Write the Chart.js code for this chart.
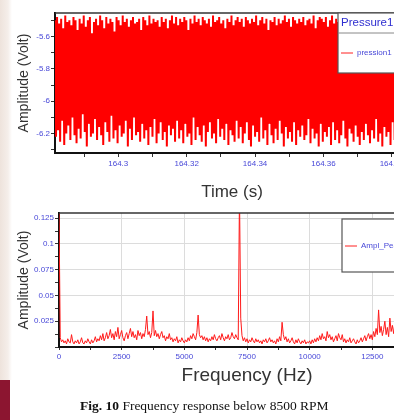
<!DOCTYPE html>
<html>
<head>
<meta charset="utf-8">
<script src="https://cdn.jsdelivr.net/npm/chart.js@4.4.0/dist/chart.umd.min.js"></script>
<style>
html, body { margin: 0; padding: 0; width: 394px; height: 420px; overflow: hidden; background: #fff; }
#strip { position: absolute; left: 0; top: 0; width: 30px; height: 380px;
  background: linear-gradient(to right, #eee3dc 0, #f5eeea 8px, #fff 12px); }
#band { position: absolute; left: 0; top: 380px; width: 10px; height: 40px; background: #8c1530; }
#c1 { position: absolute; left: 0; top: 0; }
#c2 { position: absolute; left: 0; top: 200px; }
#cap { position: absolute; left: 80px; top: 398px; font: 13.5px 'Liberation Serif', serif; color: #111; white-space: nowrap; }
</style>
</head>
<body>
<div id="strip"></div>
<div id="band"></div>
<canvas id="c1" width="420" height="210"></canvas>
<canvas id="c2" width="450" height="200"></canvas>
<div id="cap"><b>Fig. 10</b> Frequency response below 8500 RPM</div>
<script>
// pressure signal, time window
const timeStart = 164.2815;
const timeStep = 0.0003;
const pression1 = [
  -5.50,-6.22,-5.48,-6.18,-5.52,-6.25,-5.49,-6.12,-5.55,-6.27,-5.47,-6.20,-5.51,-6.15,-5.50,-6.24,-5.53,-6.10,-5.48,-6.21,
  -5.50,-6.26,-5.56,-6.17,-5.49,-6.23,-5.52,-6.08,-5.47,-6.19,-5.54,-6.28,-5.50,-6.14,-5.48,-6.22,-5.58,-6.20,-5.51,-6.11,
  -5.49,-6.24,-5.53,-6.16,-5.47,-6.21,-5.50,-6.27,-5.55,-6.13,-5.48,-6.19,-5.52,-6.25,-5.49,-6.09,-5.51,-6.23,-5.57,-6.18,
  -5.48,-6.26,-5.50,-6.15,-5.53,-6.22,-5.47,-6.20,-5.51,-6.12,-5.49,-6.28,-5.54,-6.17,-5.50,-6.24,-5.48,-6.10,-5.52,-6.21,
  -5.51,-6.19,-5.49,-6.25,-5.56,-6.14,-5.48,-6.23,-5.50,-6.18,-5.53,-6.27,-5.47,-6.16,-5.52,-6.22,-5.49,-6.11,-5.51,-6.26,
  -5.50,-6.20,-5.54,-6.13,-5.48,-6.24,-5.51,-6.19,-5.49,-6.28,-5.55,-6.15,-5.50,-6.21,-5.47,-6.17,-5.52,-6.25,-5.48,-6.12,
  -5.53,-6.23,-5.49,-6.18,-5.51,-6.26,-5.48,-6.14,-5.50,-6.22,-5.56,-6.20,-5.49,-6.27,-5.52,-6.10,-5.47,-6.24,-5.51,-6.16,
  -5.49,-6.21,-5.53,-6.25,-5.48,-6.15,-5.50,-6.28,-5.52,-6.19,-5.49,-6.13,-5.54,-6.23,-5.47,-6.20,-5.51,-6.26,-5.50,-6.11,
  -5.48,-6.22,-5.52,-6.17,-5.50,-6.24,-5.55,-6.14,-5.49,-6.27,-5.51,-6.18,-5.47,-6.21,-5.53,-6.25,-5.50,-6.12,-5.48,-6.23,
  -5.51,-6.16,-5.49,-6.26,-5.54,-6.20,-5.48,-6.13,-5.50,-6.24,-5.52,-6.28,-5.49,-6.15,-5.51,-6.22,-5.47,-6.19,-5.53,-6.25,
  -5.50,-6.10,-5.48,-6.23,-5.52,-6.18,-5.49,-6.27,-5.56,-6.14,-5.50,-6.21,-5.51,-6.26,-5.48,-6.17,-5.53,-6.24,-5.49,-6.12,
  -5.52,-6.20,-5.50,-6.28,-5.47,-6.16,-5.51,-6.23,-5.49,-6.19,-5.54,-6.25,-5.48,-6.13,-5.50,-6.27,-5.52,-6.18,-5.49,-6.22,
  -5.51,-6.15,-5.48,-6.24,-5.53,-6.21,-5.50,-6.11,-5.49,-6.26,-5.52,-6.17,-5.47,-6.23,-5.55,-6.20,-5.50,-6.28,-5.48,-6.14,
  -5.49,-6.25,-5.51,-6.19,-5.48,-6.22,-5.54,-6.16,-5.50,-6.27,-5.47,-6.13,-5.52,-6.24,-5.49,-6.18,-5.51,-6.26,-5.53,-6.21,
  -5.48,-6.12,-5.50,-6.23,-5.52,-6.28,-5.49,-6.17,-5.51,-6.20,-5.56,-6.25,-5.48,-6.15,-5.50,-6.22,-5.47,-6.27,-5.52,-6.19,
  -5.50,-6.24,-5.49,-6.14,-5.53,-6.21,-5.48,-6.26,-5.51,-6.18,-5.49,-6.23,-5.54,-6.11,-5.50,-6.25,-5.48,-6.20,-5.52,-6.28,
  -5.49,-6.16,-5.51,-6.22,-5.47,-6.19,-5.50,-6.27,-5.53,-6.13,-5.48,-6.24,-5.52,-6.20,-5.49,-6.15,-5.51,-6.23,-5.50,-6.18
];

// spectrum, one value every 50 Hz
const freqStep = 50;
const amplPeak = [
  0.130,0.009,0.005,0.007,0.004,0.006,0.003,0.008,0.005,0.004,0.012,0.005,0.003,0.006,0.004,0.007,0.003,0.005,0.009,0.004,
  0.003,0.006,0.004,0.008,0.005,0.003,0.007,0.004,0.006,0.010,0.005,0.008,0.006,0.011,0.007,0.013,0.006,0.009,0.014,0.008,
  0.011,0.017,0.009,0.013,0.007,0.015,0.010,0.019,0.008,0.012,0.016,0.009,0.006,0.011,0.014,0.008,0.013,0.018,0.010,0.015,
  0.009,0.012,0.007,0.016,0.011,0.014,0.008,0.013,0.010,0.017,0.030,0.012,0.015,0.009,0.014,0.035,0.011,0.016,0.010,0.013,
  0.008,0.012,0.015,0.009,0.011,0.006,0.010,0.008,0.013,0.007,0.009,0.005,0.008,0.006,0.010,0.004,0.007,0.005,0.009,0.006,
  0.004,0.007,0.005,0.009,0.006,0.011,0.008,0.013,0.010,0.007,0.014,0.031,0.012,0.009,0.011,0.007,0.010,0.006,0.009,0.005,
  0.008,0.006,0.010,0.007,0.012,0.008,0.006,0.009,0.011,0.007,0.013,0.009,0.006,0.010,0.008,0.012,0.007,0.009,0.014,0.010,
  0.008,0.012,0.009,0.007,0.150,0.028,0.011,0.006,0.009,0.005,0.008,0.004,0.007,0.005,0.009,0.006,0.004,0.008,0.005,0.007,
  0.004,0.006,0.003,0.007,0.005,0.008,0.004,0.006,0.009,0.005,0.007,0.004,0.006,0.003,0.008,0.005,0.010,0.006,0.024,0.012,
  0.007,0.010,0.005,0.008,0.004,0.006,0.009,0.005,0.003,0.007,0.004,0.008,0.005,0.003,0.006,0.004,0.007,0.003,0.005,0.004,
  0.006,0.003,0.007,0.004,0.008,0.005,0.009,0.006,0.011,0.007,0.013,0.008,0.010,0.006,0.015,0.009,0.012,0.007,0.010,0.005,
  0.008,0.011,0.006,0.013,0.009,0.007,0.012,0.005,0.008,0.004,0.007,0.005,0.009,0.004,0.006,0.008,0.005,0.003,0.007,0.004,
  0.006,0.009,0.005,0.008,0.011,0.006,0.010,0.013,0.008,0.012,0.007,0.015,0.010,0.018,0.012,0.036,0.014,0.020,0.011,0.017,
  0.025,0.012,0.019,0.010,0.028,0.015,0.021,0.013,0.024,0.016,0.022,0.014,0.026
];

const tickFont = { family: 'Arial, "Liberation Sans", sans-serif', size: 8 };
const tickBlue = '#4848d8';
const titleGrey = '#333';

// every 2nd minor tick gets a label
function majorLabel(v, step, skipZero) {
  const k = Math.round(v / step);
  if (Math.abs(v / step - k) > 1e-6 || k % 2 !== 0) return '';
  if (skipZero && k === 0) return '';
  return String(parseFloat((k * step).toFixed(4)));
}

// top edge of the frame + the boxed legend of the original software
function frameAndLegend(opts) {
  return {
    id: 'frameAndLegend',
    afterDatasetsDraw(chart) {
      const { ctx, chartArea } = chart;
      ctx.save();
      ctx.strokeStyle = '#333';
      ctx.lineWidth = 1.5;
      ctx.beginPath();
      ctx.moveTo(chartArea.left, chartArea.top);
      ctx.lineTo(chartArea.right, chartArea.top);
      ctx.stroke();

      const b = opts.box;
      ctx.fillStyle = '#fff';
      ctx.fillRect(b.x, b.y, b.w, b.h);
      ctx.strokeStyle = '#555';
      ctx.lineWidth = 1.2;
      ctx.strokeRect(b.x, b.y, b.w, b.h);
      if (opts.title) {
        ctx.fillStyle = '#2e2ed0';
        ctx.font = '11.5px Arial, "Liberation Sans", sans-serif';
        ctx.textBaseline = 'middle';
        ctx.fillText(opts.title, b.x + 3, b.y + 10);
        ctx.strokeStyle = '#888';
        ctx.lineWidth = 1;
        ctx.beginPath();
        ctx.moveTo(b.x, b.y + 20);
        ctx.lineTo(b.x + b.w, b.y + 20);
        ctx.stroke();
      }
      ctx.strokeStyle = '#ff2020';
      ctx.lineWidth = 1;
      ctx.beginPath();
      ctx.moveTo(b.x + 3, opts.itemY);
      ctx.lineTo(b.x + 15, opts.itemY);
      ctx.stroke();
      ctx.fillStyle = tickBlue;
      ctx.font = '8px Arial, "Liberation Sans", sans-serif';
      ctx.textBaseline = 'middle';
      ctx.fillText(opts.label, b.x + 19, opts.itemY);
      ctx.restore();
    }
  };
}

const timeData = pression1.map((v, i) => ({ x: timeStart + i * timeStep, y: v }));
const freqData = amplPeak.map((v, i) => ({ x: i * freqStep, y: v }));

new Chart(document.getElementById('c1'), {
  type: 'line',
  data: { datasets: [{ label: 'pression1', data: timeData, borderColor: '#ff0000', borderWidth: 2, pointRadius: 0, tension: 0 }] },
  options: {
    responsive: false, animation: false, devicePixelRatio: 1,
    layout: { padding: { left: 0, top: 13, right: 11, bottom: 0 } },
    plugins: { legend: { display: false }, tooltip: { enabled: false } },
    scales: {
      x: {
        type: 'linear', min: timeStart, max: 164.385,
        afterFit: s => { s.height = 57; },
        border: { color: '#111', width: 2 },
        grid: { drawOnChartArea: false, tickLength: 4, color: '#333' },
        ticks: { stepSize: 0.01, includeBounds: false, autoSkip: false, maxRotation: 0, padding: 2, color: tickBlue, font: tickFont,
          callback: v => majorLabel(v, 0.01, false) },
        title: { display: true, text: 'Time (s)', color: titleGrey, padding: { top: 0, bottom: 7 },
          font: { family: 'Arial, "Liberation Sans", sans-serif', size: 17 } }
      },
      y: {
        min: -6.32, max: -5.455,
        afterFit: s => { s.width = 55; },
        border: { color: '#111', width: 2 },
        grid: { drawOnChartArea: false, tickLength: 4, color: '#333' },
        ticks: { stepSize: 0.1, includeBounds: false, autoSkip: false, padding: 1, color: tickBlue, font: tickFont,
          callback: v => majorLabel(v, 0.1, false) },
        title: { display: true, text: 'Amplitude (Volt)', color: titleGrey, padding: { top: 16, bottom: 0 },
          font: { family: 'Arial, "Liberation Sans", sans-serif', size: 14 } }
      }
    }
  },
  plugins: [frameAndLegend({ box: { x: 338, y: 13, w: 100, h: 60 }, title: 'Pressure1', label: 'pression1', itemY: 53 })]
});

new Chart(document.getElementById('c2'), {
  type: 'line',
  data: { datasets: [{ label: 'Ampl_Peak', data: freqData, borderColor: '#ff1a1a', borderWidth: 1, pointRadius: 0, tension: 0 }] },
  options: {
    responsive: false, animation: false, devicePixelRatio: 1,
    layout: { padding: { left: 0, top: 13, right: 15, bottom: 0 } },
    plugins: { legend: { display: false }, tooltip: { enabled: false } },
    scales: {
      x: {
        type: 'linear', min: 0, max: 15000,
        afterFit: s => { s.height = 53; },
        border: { color: '#111', width: 2 },
        grid: { tickLength: 3, tickColor: '#333',
          color: c => (c.tick && c.tick.value > 0 && c.tick.value % 2500 === 0) ? '#dcdcdc' : 'rgba(0,0,0,0)' },
        ticks: { stepSize: 1250, includeBounds: false, autoSkip: false, maxRotation: 0, padding: 2, color: tickBlue, font: tickFont,
          callback: v => majorLabel(v, 1250, false) },
        title: { display: true, text: 'Frequency (Hz)', color: titleGrey, padding: { top: 0, bottom: 13 },
          font: { family: 'Arial, "Liberation Sans", sans-serif', size: 19 } }
      },
      y: {
        min: 0, max: 0.13,
        afterFit: s => { s.width = 59; },
        border: { color: '#111', width: 2 },
        grid: { tickLength: 4, tickColor: '#333',
          color: c => {
            if (!c.tick) return 'rgba(0,0,0,0)';
            const k = Math.round(c.tick.value / 0.0125);
            return (k > 0 && k % 2 === 0) ? '#dcdcdc' : 'rgba(0,0,0,0)';
          } },
        ticks: { stepSize: 0.0125, includeBounds: false, autoSkip: false, padding: 1, color: tickBlue, font: tickFont,
          callback: v => majorLabel(v, 0.0125, true) },
        title: { display: true, text: 'Amplitude (Volt)', color: titleGrey, padding: { top: 16, bottom: 0 },
          font: { family: 'Arial, "Liberation Sans", sans-serif', size: 14 } }
      }
    }
  },
  plugins: [frameAndLegend({ box: { x: 342, y: 19, w: 100, h: 53 }, title: null, label: 'Ampl_Peak', itemY: 46 })]
});
</script>
</body>
</html>
